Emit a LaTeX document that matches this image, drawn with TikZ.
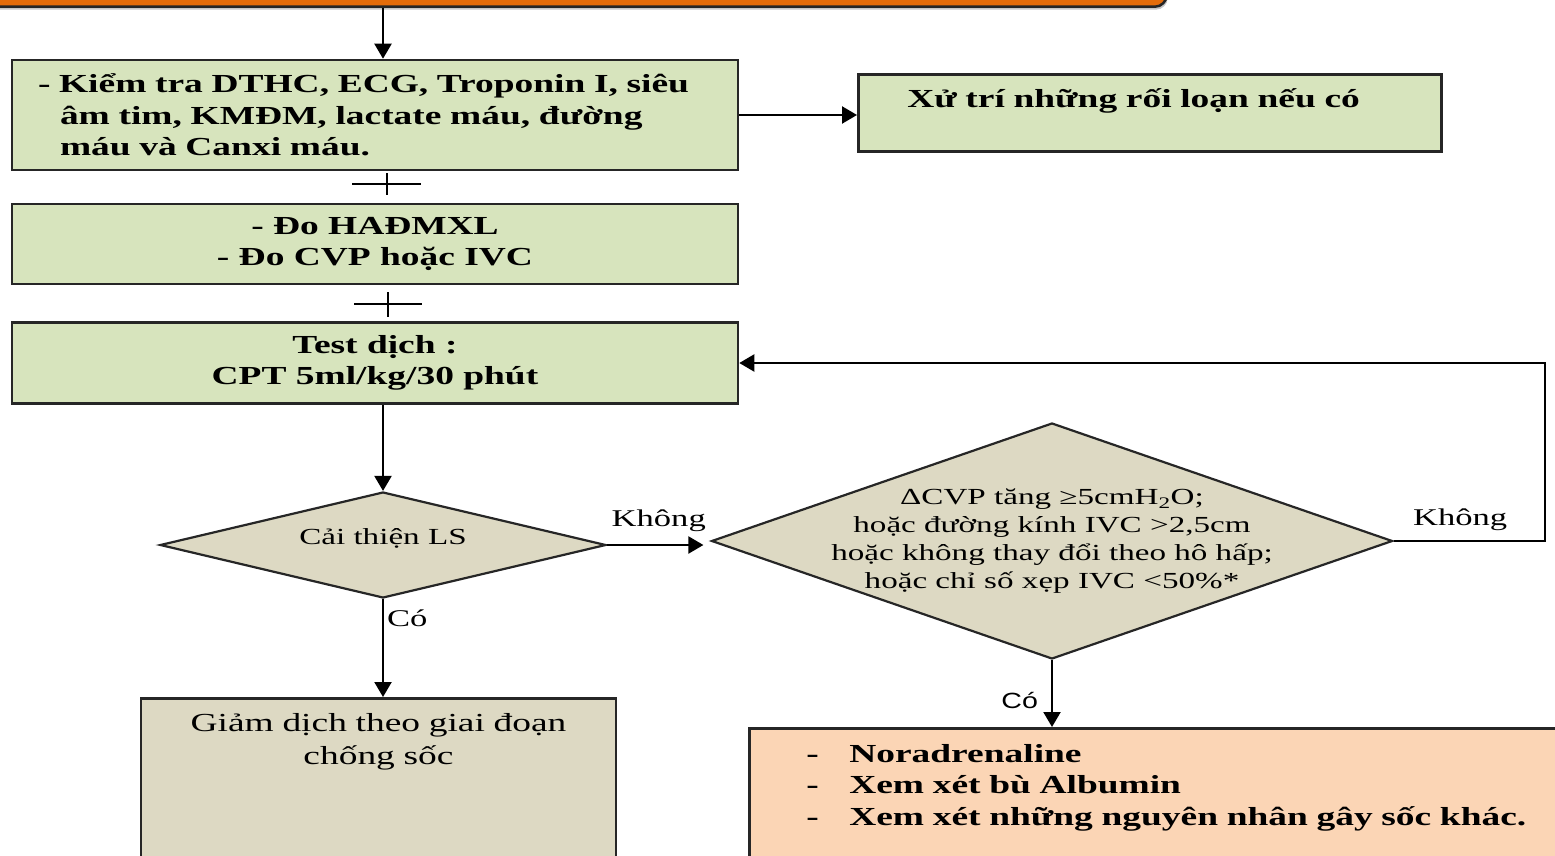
\documentclass[tikz,border=0pt]{standalone}
\usepackage{fontspec}
\setmainfont[FakeStretch=1.44]{Liberation Serif}
\newfontfamily\sanslabel[FakeStretch=1.3]{Liberation Sans}
\usetikzlibrary{arrows.meta,positioning,shapes.geometric,shadows}

\definecolor{boxgreen}{HTML}{D7E4BD}
\definecolor{boxtan}{HTML}{DDD9C3}
\definecolor{boxpeach}{HTML}{FBD5B5}
\definecolor{shockorange}{HTML}{E46C0A}
\definecolor{edge}{HTML}{262626}

\begin{document}
\begin{tikzpicture}[x=1pt,y=-1pt,
    box/.style={draw=edge,line width=2.6pt,fill=boxgreen,inner sep=0pt,font=\fontsize{26}{31.5}\selectfont\bfseries},
    dec/.style={diamond,draw=edge,line width=2.2pt,fill=boxtan,inner sep=0pt},
    arr/.style={-{Triangle[length=15pt,width=17pt]},line width=2.2pt},
    lab/.style={font=\fontsize{24}{28}\selectfont,inner sep=3pt}
]
\useasboundingbox (0,0) rectangle (1555,856);
\clip (0,0) rectangle (1555,856);

% khung cam phia tren
\node[draw=edge,line width=2.5pt,fill=shockorange,rounded corners=12pt,minimum width=1220pt,minimum height=80pt,anchor=south east,
      drop shadow={shadow xshift=1pt,shadow yshift=-3pt,opacity=.45}] (shock) at (1168,8) {};

\node[box,minimum width=726pt,minimum height=110pt,text width=674pt,align=left] (kiemtra) at (375,115)
    {- Kiểm tra DTHC, ECG, Troponin I, siêu\\\hspace*{22pt}âm tim, KMĐM, lactate máu, đường\\\hspace*{22pt}máu và Canxi máu.};
\node[box,anchor=north west,text width=485pt,align=left,inner xsep=49pt,inner ysep=9pt,text height=24pt,text depth=35pt] (xutri) at (857,73)
    {Xử trí những rối loạn nếu có};
\node[box,minimum width=726pt,minimum height=80pt,align=center] (doha) at (375,244) {- Đo HAĐMXL\\- Đo CVP hoặc IVC};
\node[box,minimum width=726pt,minimum height=81pt,align=center] (testdich) at (375,363) {Test dịch :\\CPT 5ml/kg/30 phút};

\node[dec,aspect=4.2,minimum width=446pt,minimum height=106pt,
      label={[font=\fontsize{23}{28}\selectfont,yshift=7pt]center:Cải thiện LS}] (caithien) at (383,545) {};
\node[dec,aspect=2.9,minimum width=681pt,minimum height=236pt,
      label={[font=\fontsize{23}{28}\selectfont,align=center]center:{ΔCVP tăng ≥5cmH\textsubscript{2}O;\\hoặc đường kính IVC >2,5cm\\hoặc không thay đổi theo hô hấp;\\hoặc chỉ số xẹp IVC <50\%*}}] (cvp) at (1052,541) {};

\node[box,fill=boxtan,anchor=north,text width=475pt,align=center,inner ysep=15pt,font=\fontsize{26}{33}\selectfont] (giamdich) at (378.5,697)
    {Giảm dịch theo giai đoạn\\chống sốc\rule[-130pt]{0pt}{0pt}};
\node[box,fill=boxpeach,anchor=north west,text width=795pt,align=left,inner xsep=57pt,inner ysep=16pt] (vanmach) at (748,727)
    {\makebox[43pt][l]{-}Noradrenaline\\\makebox[43pt][l]{-}Xem xét bù Albumin\\\makebox[43pt][l]{-}Xem xét những nguyên nhân gây sốc khác.\rule[-60pt]{0pt}{0pt}};

% dau cong giua cac khung
\coordinate (plusA) at (387,184);
\coordinate (plusB) at (388,304);
\draw[line width=2.6pt] (plusA) ++(0,-11) -- ++(0,22) (plusA) ++(-35,0) -- ++(69,0);
\draw[line width=2.6pt] (plusB) ++(0,-12) -- ++(0,25) (plusB) ++(-34,0) -- ++(68,0);

\draw[arr] (shock.south -| caithien.north) -- (kiemtra.north -| caithien.north);
\draw[arr] (kiemtra.east) -- (kiemtra.east -| xutri.west);
\draw[arr] (testdich.south -| caithien.north) -- (caithien.north);
\draw[arr,shorten >=7pt] (caithien.east) -- node[lab,above=9pt]{Không} (caithien.east -| cvp.west);
\draw[arr] (cvp.east) -- node[lab,above=6pt,xshift=-9pt]{Không} ++(151,0) |- (testdich.east);
\draw[arr] (caithien.south) -- node[lab,right,pos=0.2]{Có} (caithien.south |- giamdich.north);
\draw[arr] (cvp.south) -- node[lab,left=10pt,pos=0.6,font={\sanslabel\fontsize{22}{26}\selectfont}]{Có} (cvp.south |- vanmach.north);
\end{tikzpicture}
\end{document}
